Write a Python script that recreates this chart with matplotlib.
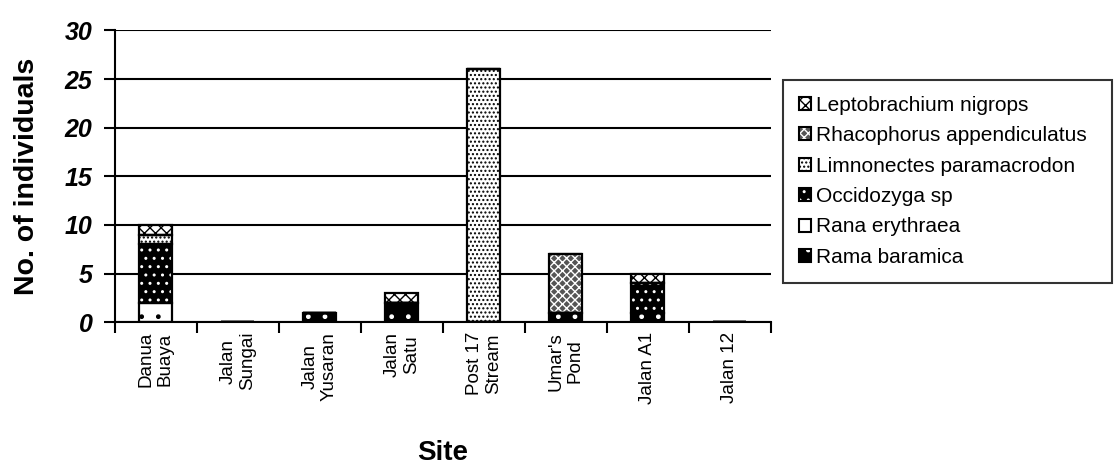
import numpy as np
import matplotlib.pyplot as plt
from matplotlib.legend_handler import HandlerTuple

plt.rcParams['font.family'] = ['Liberation Sans', 'DejaVu Sans']

# sites along the x axis and species counts (stacked bottom to top)
sites = ["Danua\nBuaya", "Jalan\nSungai", "Jalan\nYusaran", "Jalan\nSatu",
         "Post 17\nStream", "Umar's\nPond", "Jalan A1", "Jalan 12"]
species = ["Rama baramica", "Rana erythraea", "Occidozyga sp",
           "Limnonectes paramacrodon", "Rhacophorus appendiculatus",
           "Leptobrachium nigrops"]
rama_baramica = [0, 0, 1, 2, 0, 1, 1, 0]
rana_erythraea = [2, 0, 0, 0, 0, 0, 0, 0]
occidozyga = [6, 0, 0, 0, 0, 0, 3, 0]
limnonectes = [1, 0, 0, 0, 26, 0, 0, 0]
rhacophorus = [0, 0, 0, 0, 0, 6, 0, 0]
leptobrachium = [1, 0, 0, 1, 0, 0, 1, 0]
counts = [rama_baramica, rana_erythraea, occidozyga,
          limnonectes, rhacophorus, leptobrachium]

# fill colour, hatch and hatch colour for each species
styles = [("black", ".", "white"),
          ("white", ".", "black"),
          ("black", "..", "white"),
          ("white", "....", "black"),
          ("#555555", "xxxx", "white"),
          ("white", "xxx", "black")]

fig = plt.figure(figsize=(11.14, 4.67), dpi=100)
ax = fig.add_axes([0.103, 0.31, 0.589, 0.625])

x = np.arange(len(sites))
bottom = np.zeros(len(sites))
handles = []
for name, vals, (fc, hatch, hc) in zip(species, counts, styles):
    vals = np.array(vals, dtype=float)
    ax.bar(x, vals, 0.4, bottom=bottom, color=fc, edgecolor=hc,
           hatch=hatch, linewidth=0, zorder=3)
    ax.bar(x, vals, 0.4, bottom=bottom, fill=False, edgecolor="black",
           linewidth=1.6, zorder=4)
    h1 = plt.Rectangle((0, 0), 1, 1, facecolor=fc, edgecolor=hc, hatch=hatch,
                       linewidth=0)
    h2 = plt.Rectangle((0, 0), 1, 1, fill=False, edgecolor="black",
                       linewidth=1.5)
    handles.append((h1, h2))
    bottom += vals

ax.set_xlim(-0.5, len(sites) - 0.5)
ax.set_ylim(0, 30)
ax.set_yticks(range(0, 31, 5))
ax.yaxis.grid(True, color="black", linewidth=1.5, zorder=0)
ax.set_axisbelow(True)
for s in ["top", "right"]:
    ax.spines[s].set_visible(False)
ax.spines["left"].set_linewidth(1.5)
ax.spines["bottom"].set_linewidth(1.5)

ax.set_xticks(x)
ax.set_xticklabels(sites, rotation=90, fontsize=13.5, linespacing=1.15)
ax.tick_params(axis="x", length=0, pad=7)
ax.set_xticks(np.arange(-0.5, len(sites)), minor=True)
ax.tick_params(axis="x", which="minor", length=8, width=1.5)
ax.tick_params(axis="y", length=8, width=1.5, pad=8)
for t in ax.get_yticklabels():
    t.set_fontsize(18)
    t.set_fontweight("bold")
    t.set_fontstyle("italic")

ax.set_ylabel("No. of individuals", fontsize=20.5, fontweight="bold", labelpad=18)
ax.set_xlabel("Site", fontsize=20, fontweight="bold", labelpad=26)

leg = fig.legend(handles[::-1], species[::-1], loc="upper left",
                 bbox_to_anchor=(783 / 1114, 1 - 80 / 467, 329 / 1114, 0),
                 mode="expand", fontsize=15, frameon=True,
                 fancybox=False, edgecolor="black", handlelength=0.6,
                 handleheight=0.6, handletextpad=0.25, labelspacing=0.55,
                 borderpad=0.75, borderaxespad=0,
                 handler_map={tuple: HandlerTuple(ndivide=1, pad=0)})
leg.get_frame().set_linewidth(1.5)

fig.savefig("out.png", dpi=100)
